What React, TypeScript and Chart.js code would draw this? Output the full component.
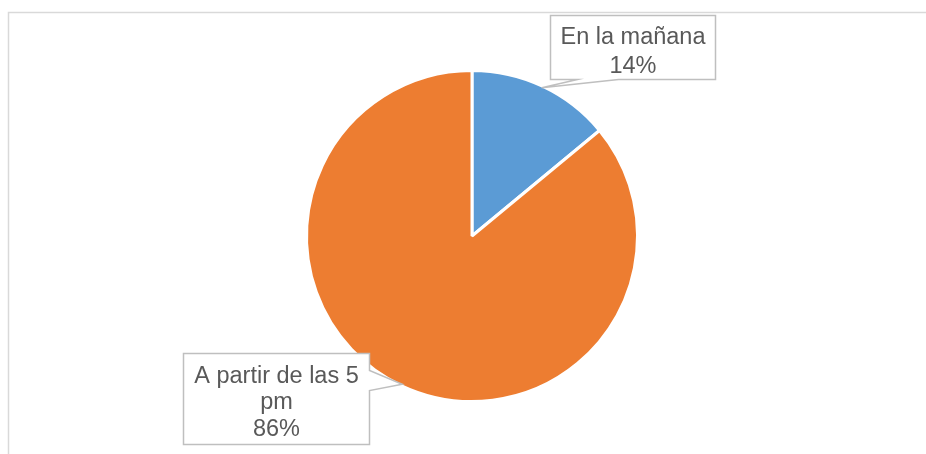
import React, { useEffect, useRef } from "react";
import { Chart, registerables } from "chart.js";

Chart.register(...registerables);

const categories = ["En la mañana", "A partir de las 5 pm"];
const values = [14, 86];
const labelLines = [["En la mañana", "14%"], ["A partir de las 5", "pm", "86%"]];
const colors = ["#5B9BD5", "#ED7D31"];

// Callout boxes relative to pie center
const boxes = [
  { dx: 78, dy: -221, w: 165, h: 64, base: [27, 68], side: "bottom", first: 28, lh: 29 },
  { dx: -289, dy: 117, w: 186, h: 91, base: [17, 37], side: "right", first: 29, lh: 26.6 },
];

const calloutPlugin = {
  id: "callouts",
  afterDatasetsDraw(chart: any) {
    const ctx = chart.ctx;
    const meta = chart.getDatasetMeta(0);
    ctx.save();
    meta.data.forEach((arc: any, i: number) => {
      const { x, y, startAngle, endAngle, outerRadius } = arc.getProps(
        ["x", "y", "startAngle", "endAngle", "outerRadius"],
        true
      );
      const mid = (startAngle + endAngle) / 2;
      const tx = x + Math.cos(mid) * outerRadius * 0.99;
      const ty = y + Math.sin(mid) * outerRadius * 0.99;
      const b = boxes[i];
      const L = Math.round(x + b.dx) + 0.5;
      const T = Math.round(y + b.dy) + 0.5;
      const R = L + b.w;
      const B = T + b.h;
      ctx.beginPath();
      if (b.side === "bottom") {
        ctx.moveTo(L, T);
        ctx.lineTo(R, T);
        ctx.lineTo(R, B);
        ctx.lineTo(L + b.base[1], B);
        ctx.lineTo(tx, ty);
        ctx.lineTo(L + b.base[0], B);
        ctx.lineTo(L, B);
        ctx.closePath();
      } else {
        ctx.moveTo(L, T);
        ctx.lineTo(R, T);
        ctx.lineTo(R, T + b.base[0]);
        ctx.lineTo(tx, ty);
        ctx.lineTo(R, T + b.base[1]);
        ctx.lineTo(R, B);
        ctx.lineTo(L, B);
        ctx.closePath();
      }
      ctx.fillStyle = "#ffffff";
      ctx.fill();
      ctx.lineWidth = 1.5;
      ctx.strokeStyle = "#bfbfbf";
      ctx.stroke();
      ctx.fillStyle = "#595959";
      ctx.font = '23.5px "Liberation Sans", Arial, sans-serif';
      ctx.textAlign = "center";
      ctx.textBaseline = "alphabetic";
      const lines = labelLines[i];
      const cxText = (L + R) / 2;
      lines.forEach((ln, k) => ctx.fillText(ln, cxText, T + b.first + k * b.lh));
    });
    ctx.restore();
  },
};

const framePlugin = {
  id: "frame",
  beforeDraw(chart: any) {
    const ctx = chart.ctx;
    ctx.save();
    ctx.fillStyle = "#ffffff";
    ctx.fillRect(0, 0, chart.width, chart.height);
    ctx.strokeStyle = "#d9d9d9";
    ctx.lineWidth = 1.5;
    ctx.beginPath();
    ctx.moveTo(8.5, chart.height);
    ctx.lineTo(8.5, 12.5);
    ctx.lineTo(chart.width, 12.5);
    ctx.stroke();
    ctx.restore();
  },
};

export default function App() {
  const ref = useRef<HTMLCanvasElement>(null);
  useEffect(() => {
    if (!ref.current) return;
    const chart = new Chart(ref.current, {
      type: "pie",
      data: {
        labels: categories,
        datasets: [
          {
            data: values,
            backgroundColor: colors,
            borderColor: "#ffffff",
            borderWidth: 3,
            hoverOffset: 0,
          },
        ],
      },
      options: {
        animation: false,
        responsive: false,
        maintainAspectRatio: false,
        layout: { padding: { top: 69, bottom: 51, left: 18, right: 0 } },
        plugins: {
          legend: { display: false },
          tooltip: { enabled: false },
        },
      },
      plugins: [framePlugin, calloutPlugin],
    });
    return () => chart.destroy();
  }, []);
  return (
    <div style={{ position: "fixed", left: 0, top: 0, width: 926, height: 454, background: "#fff" }}>
      <canvas ref={ref} width={926} height={454} style={{ width: 926, height: 454 }} />
    </div>
  );
}
